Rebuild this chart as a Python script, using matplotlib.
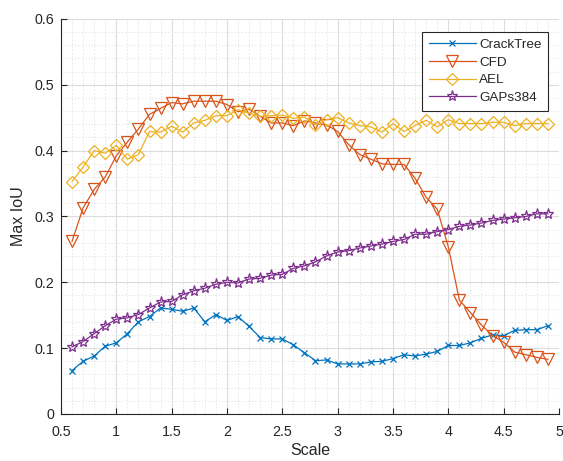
import numpy as np
import matplotlib
matplotlib.use("Agg")
import matplotlib.pyplot as plt
from matplotlib.ticker import MultipleLocator

plt.rcParams['font.family'] = ['Liberation Sans', 'DejaVu Sans']

scale = np.round(np.arange(0.6, 4.95, 0.1), 1)

cracktree = [0.066, 0.080, 0.088, 0.103, 0.108, 0.122, 0.140, 0.148, 0.161, 0.159,
             0.156, 0.161, 0.140, 0.151, 0.142, 0.148, 0.133, 0.116, 0.114, 0.114,
             0.105, 0.093, 0.081, 0.082, 0.076, 0.076, 0.076, 0.079, 0.080, 0.084,
             0.090, 0.088, 0.091, 0.095, 0.104, 0.104, 0.108, 0.115, 0.120, 0.119,
             0.127, 0.128, 0.128, 0.134]
cfd = [0.262, 0.313, 0.341, 0.360, 0.392, 0.413, 0.433, 0.455, 0.464, 0.473,
       0.471, 0.475, 0.475, 0.475, 0.470, 0.459, 0.463, 0.452, 0.442, 0.442,
       0.438, 0.445, 0.442, 0.439, 0.429, 0.409, 0.394, 0.387, 0.380, 0.379,
       0.379, 0.358, 0.329, 0.311, 0.254, 0.173, 0.154, 0.135, 0.119, 0.109,
       0.094, 0.090, 0.086, 0.083]
ael = [0.353, 0.375, 0.400, 0.396, 0.408, 0.387, 0.394, 0.429, 0.428, 0.437,
       0.428, 0.442, 0.446, 0.453, 0.453, 0.462, 0.457, 0.452, 0.453, 0.454,
       0.449, 0.451, 0.439, 0.447, 0.450, 0.442, 0.438, 0.436, 0.428, 0.441,
       0.429, 0.438, 0.446, 0.436, 0.447, 0.441, 0.441, 0.441, 0.443, 0.443,
       0.438, 0.441, 0.441, 0.441]
gaps384 = [0.102, 0.110, 0.122, 0.134, 0.144, 0.146, 0.151, 0.161, 0.170, 0.171,
           0.181, 0.187, 0.191, 0.197, 0.200, 0.199, 0.205, 0.206, 0.211, 0.212,
           0.221, 0.225, 0.231, 0.240, 0.246, 0.248, 0.252, 0.255, 0.258, 0.262,
           0.265, 0.273, 0.273, 0.277, 0.280, 0.285, 0.287, 0.290, 0.294, 0.296,
           0.298, 0.300, 0.304, 0.304]

xticks = ['0.5', '1', '1.5', '2', '2.5', '3', '3.5', '4', '4.5', '5']
yticks = ['0', '0.1', '0.2', '0.3', '0.4', '0.5', '0.6']

colors = ['#0072BD', '#D95319', '#EDB120', '#7E2F8E']
txt = '#262626'

fig = plt.figure(figsize=(5.63, 4.61), dpi=100)
ax = fig.add_axes([0.1083, 0.102, 0.8845, 0.857])

ax.plot(scale, cracktree, color=colors[0], marker='x', ms=5, lw=0.9, mew=0.9, label='CrackTree')
ax.plot(scale, cfd, color=colors[1], marker='v', ms=8, lw=0.9, mew=0.9, mfc='none', label='CFD')
ax.plot(scale, ael, color=colors[2], marker='D', ms=6.5, lw=0.9, mew=0.9, mfc='none', label='AEL')
ax.plot(scale, gaps384, color=colors[3], marker='*', ms=8, lw=0.9, mew=0.9, mfc='none', label='GAPs384')

ax.set_xlim(0.5, 5)
ax.set_ylim(0, 0.6)
ax.set_xticks(np.arange(0.5, 5.01, 0.5))
ax.set_xticklabels(xticks)
ax.set_yticks(np.arange(0, 0.61, 0.1))
ax.set_yticklabels(yticks)
ax.xaxis.set_minor_locator(MultipleLocator(0.1))
ax.yaxis.set_minor_locator(MultipleLocator(0.02))

ax.grid(True, which='major', color='#dcdcdc', lw=0.8)
ax.grid(True, which='minor', color='#e4e4e4', lw=0.6, ls=(0, (2, 2)))
ax.set_axisbelow(True)

for s in ['top', 'right']:
    ax.spines[s].set_visible(False)
for s in ['left', 'bottom']:
    ax.spines[s].set_color(txt)
    ax.spines[s].set_linewidth(0.8)
ax.tick_params(which='major', direction='in', length=4, width=0.8, colors=txt, labelsize=10.3)
ax.tick_params(axis='x', pad=8)
ax.tick_params(axis='y', pad=5)
ax.tick_params(which='minor', length=0)

ax.set_xlabel('Scale', fontsize=11.5, color=txt, labelpad=3)
ax.set_ylabel('Max IoU', fontsize=11.5, color=txt, labelpad=6)

leg = ax.legend(loc='upper right', bbox_to_anchor=(0.979, 0.968), fontsize=9.7,
                fancybox=False, framealpha=1, edgecolor=txt, handlelength=3.5,
                borderpad=0.5, labelspacing=0.4, handletextpad=0.25, borderaxespad=0)
leg.get_frame().set_linewidth(0.8)
for t in leg.get_texts():
    t.set_color(txt)

fig.savefig('out.png', dpi=100)
